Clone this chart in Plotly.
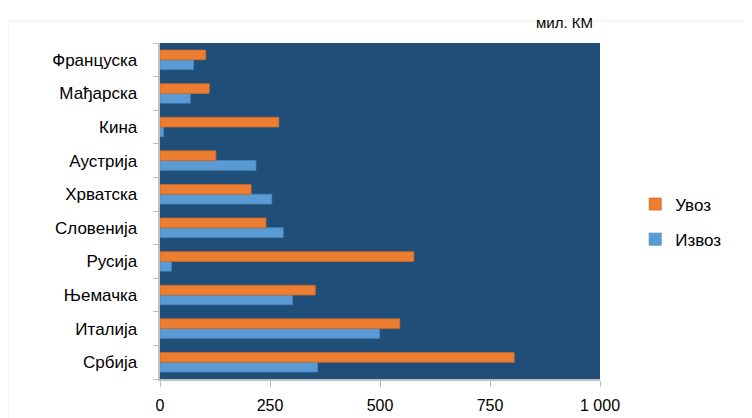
import plotly.graph_objects as go

countries = ["Француска", "Мађарска", "Кина", "Аустрија", "Хрватска",
             "Словенија", "Русија", "Њемачка", "Италија", "Србија"]
uvoz = [104, 112, 270, 127, 207, 241, 577, 353, 545, 805]
izvoz = [76, 69, 8, 218, 254, 280, 26, 301, 499, 358]
tick_vals = [0, 250, 500, 750, 1000]
tick_text = ["0", "250", "500", "750", "1 000"]

fig = go.Figure()
fig.add_trace(go.Bar(y=countries, x=izvoz, name="Извоз", orientation="h",
                     legendgroup="b", legendrank=2,
                     marker=dict(color="#5B9BD5", line=dict(color="#4A86BE", width=0.8))))
fig.add_trace(go.Bar(y=countries, x=uvoz, name="Увоз", orientation="h",
                     legendgroup="a", legendrank=1,
                     marker=dict(color="#ED7D31", line=dict(color="#C9692A", width=0.8))))

W, H = 744, 410
L, T, PW, PH = 152, 35, 440, 336
fig.update_layout(
    width=W, height=H,
    margin=dict(l=L, r=W - L - PW, t=T, b=H - T - PH),
    paper_bgcolor="white",
    plot_bgcolor="#1F4E79",
    barmode="group",
    bargap=0.42,
    bargroupgap=0.0,
    font=dict(family="Liberation Sans, Arial, sans-serif", size=17, color="#000000"),
    legend=dict(x=0.843, y=0.478, xref="container", yref="container",
                xanchor="left", yanchor="middle", traceorder="grouped",
                itemwidth=30,
                font=dict(size=17), tracegroupgap=10, bgcolor="rgba(0,0,0,0)"),
    xaxis=dict(range=[0, 1000], tickvals=tick_vals, ticktext=tick_text,
               showgrid=False, zeroline=False, showline=True, linecolor="#BFBFBF",
               linewidth=1.5, ticks="outside", ticklen=6, tickcolor="#BFBFBF",
               ticklabelstandoff=5, tickfont=dict(size=16), automargin=False),
    yaxis=dict(categoryorder="array", categoryarray=countries[::-1],
               showgrid=False, showline=True, linecolor="#BFBFBF", linewidth=1.5,
               ticks="outside", tickson="boundaries", ticklen=5, tickcolor="#BFBFBF",
               tickfont=dict(size=17), ticksuffix="   \u2009", automargin=False),
)
fig.add_annotation(text="мил. КМ", x=(595 - 160) / 440, y=(379 - 22) / 336,
                   xref="paper", yref="paper", showarrow=False,
                   xanchor="right", yanchor="middle", font=dict(size=15))
fig.add_shape(type="rect", xref="paper", yref="paper",
              x0=(0 - L) / PW, x1=(W + 10 - L) / PW,
              y0=(T + PH - (H + 10)) / PH, y1=(T + PH - 13) / PH,
              line=dict(color="#EDEDED", width=1), layer="below")

fig.write_html("out.html")
